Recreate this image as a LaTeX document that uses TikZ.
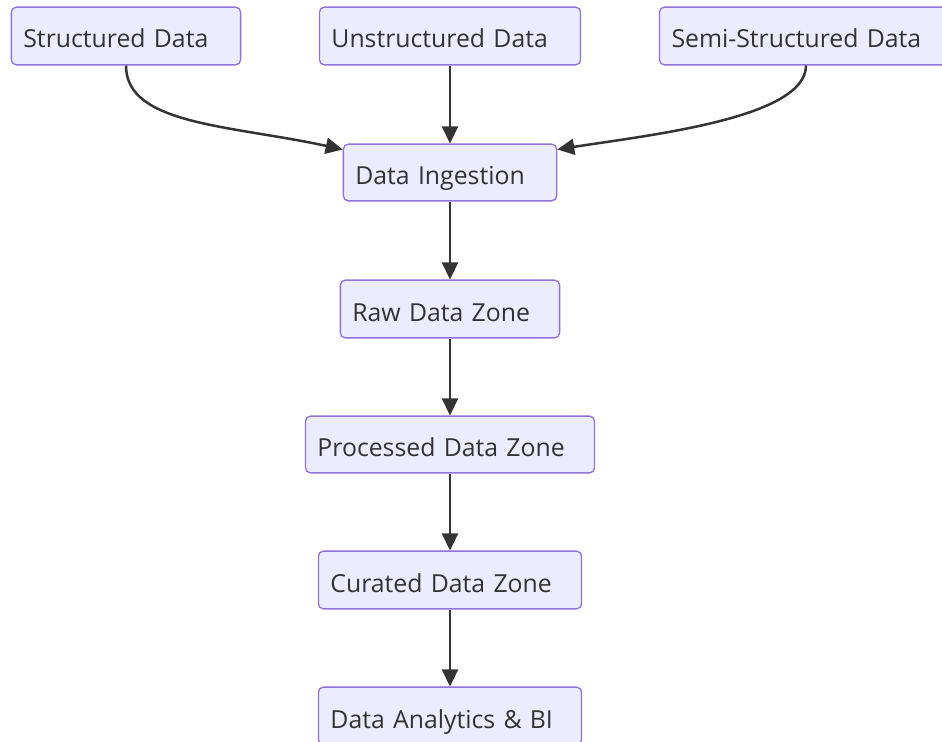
\documentclass[tikz,border=0pt]{standalone}
\usepackage{fontspec}
\setmainfont{Open Sans}
\usetikzlibrary{arrows.meta}
\definecolor{boxfill}{HTML}{ECECFF}
\definecolor{boxline}{HTML}{9370DB}
\definecolor{ink}{HTML}{333333}
\tikzset{
  box/.style={draw=boxline, fill=boxfill, line width=1.3bp, rounded corners=5bp,
    inner xsep=12bp, inner ysep=0bp, align=left, text=ink,
    text height=24bp, text depth=0bp,
    font=\fontsize{24.8bp}{28bp}\selectfont},
  flow/.style={draw=ink, line width=2.5bp, -{Triangle[length=17bp,width=16bp]}}
}
\newcommand{\mkbox}[6]{%
  \node[box, minimum width={#4-#2}, minimum height={#5-#3},
        text width={#4-#2-24}] (#1) at ({(#2+#4)/2},{(#3+#5)/2}) {#6};}
\begin{document}
\begin{tikzpicture}[x=1bp,y=-1bp]
\useasboundingbox (0,0) rectangle (942,742);
\clip (0,0) rectangle (942,742);
\fill[white] (0,0) rectangle (942,742);
% sources
\mkbox{sd}{11}{7}{241}{65}{Structured Data}
\mkbox{ud}{319}{7}{581}{65}{Unstructured Data}
\mkbox{ssd}{659}{7}{953}{65}{Semi-Structured Data}
% pipeline
\mkbox{ing}{343}{144}{557}{201}{Data Ingestion}
\mkbox{raw}{340}{280}{560}{338}{Raw Data Zone}
\mkbox{proc}{305}{416}{595}{473}{Processed Data Zone}
\mkbox{cur}{318}{551}{582}{609}{Curated Data Zone}
\mkbox{bi}{318}{687}{582}{745}{Data Analytics \& BI}
% connectors
\draw[flow] (sd.south) .. controls (126,125) and (230,125) .. ([yshift=-6bp]ing.north west);
\draw[flow] (ssd.south) .. controls (806,118) and (650,135) .. ([yshift=-6bp]ing.north east);
\draw[flow] (ud.south) -- (ing.north);
\draw[flow] (ing.south) -- (raw.north);
\draw[flow] (raw.south) -- (proc.north);
\draw[flow] (proc.south) -- (cur.north);
\draw[flow] (cur.south) -- (bi.north);
\end{tikzpicture}
\end{document}
